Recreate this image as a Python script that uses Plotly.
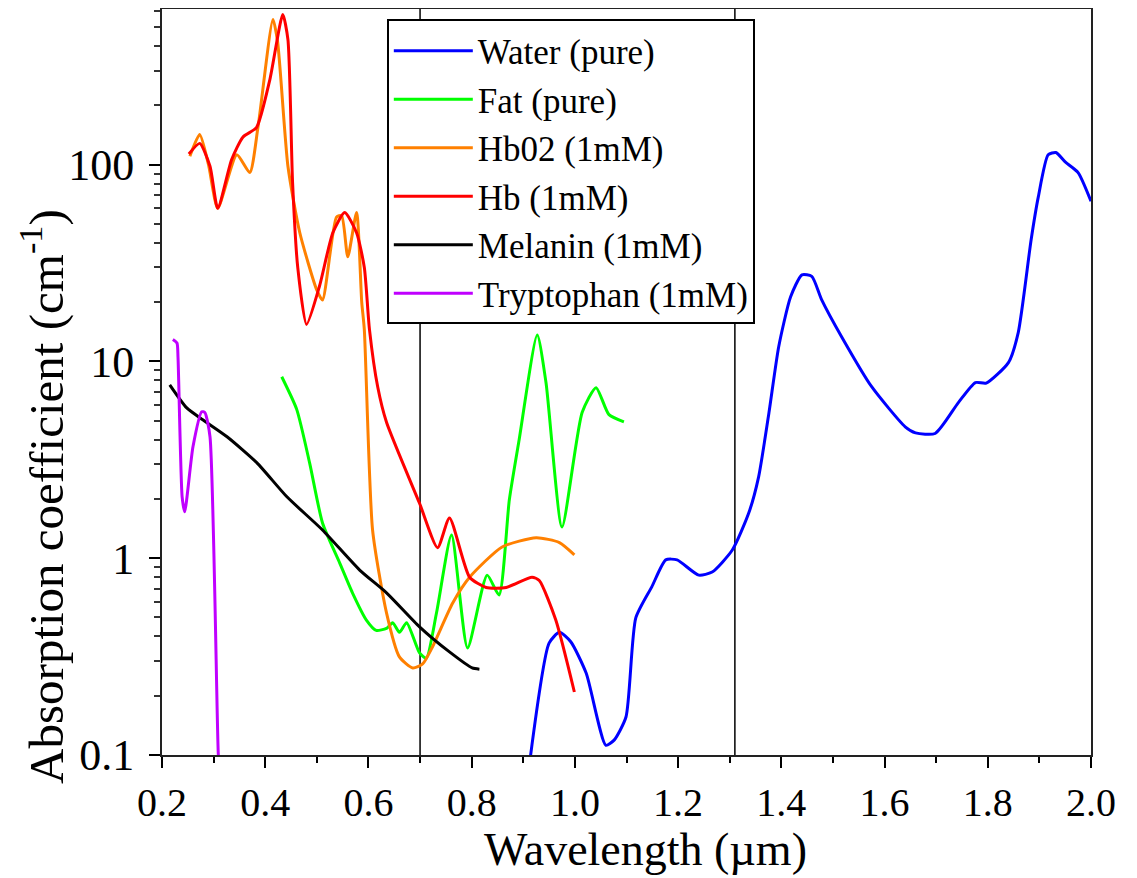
import plotly.graph_objects as go

# ---- data (wavelength in µm, absorption coefficient in cm^-1) ----
water_x = [0.912, 0.950, 0.970, 0.992, 1.022, 1.060, 1.076, 1.099, 1.118, 1.149, 1.176, 1.198,
           1.240, 1.266, 1.305, 1.337, 1.356, 1.376, 1.395, 1.418, 1.440, 1.459, 1.478, 1.517,
           1.575, 1.640, 1.660, 1.698, 1.743, 1.776, 1.797, 1.840, 1.859, 1.884, 1.898, 1.917,
           1.932, 1.950, 1.975, 2.000]
water_y = [0.090, 0.37, 0.42, 0.376, 0.26, 0.112, 0.119, 0.156, 0.497, 0.715, 0.98, 0.98,
           0.82, 0.85, 1.10, 1.70, 2.59, 5.48, 11.9, 21.3, 27.5, 27.0, 20.6, 13.3,
           7.43, 4.65, 4.33, 4.3, 6.17, 7.8, 7.75, 9.85, 14.0, 41.5, 68.7, 112,
           115, 103, 91, 65]

fat_x = [0.432, 0.461, 0.486, 0.511, 0.544, 0.569, 0.596, 0.615, 0.635, 0.647, 0.660, 0.674,
         0.699, 0.712, 0.732, 0.761, 0.792, 0.830, 0.853, 0.873, 0.892, 0.927, 0.944, 0.975,
         1.014, 1.041, 1.066, 1.095]
fat_y = [8.35, 5.7, 3.05, 1.51, 0.95, 0.667, 0.485, 0.43, 0.44, 0.47, 0.42, 0.47,
         0.33, 0.31, 0.53, 1.31, 0.35, 0.82, 0.65, 1.98, 4.0, 13.6, 7.8, 1.44,
         5.5, 7.35, 5.36, 4.93]

hbo2_x = [0.254, 0.273, 0.290, 0.308, 0.345, 0.370, 0.386, 0.415, 0.424, 0.444, 0.467, 0.500,
          0.511, 0.538, 0.548, 0.560, 0.577, 0.587, 0.592, 0.608, 0.635, 0.660, 0.686, 0.705,
          0.724, 0.763, 0.796, 0.859, 0.925, 0.970, 0.999]
hbo2_y = [110, 142, 100, 60, 112, 91, 155, 546, 420, 98, 45, 23,
          20.5, 54, 55, 34, 57, 20, 14.5, 1.39, 0.527, 0.315, 0.277, 0.29,
          0.354, 0.59, 0.80, 1.14, 1.27, 1.2, 1.04]

hb_x = [0.252, 0.273, 0.293, 0.308, 0.335, 0.357, 0.383, 0.409, 0.434, 0.444, 0.453, 0.463,
        0.480, 0.505, 0.531, 0.554, 0.577, 0.592, 0.602, 0.618, 0.635, 0.699, 0.734, 0.757,
        0.796, 0.828, 0.867, 0.917, 0.931, 0.963, 0.999]
hb_y = [113, 128, 98, 60, 106, 138, 154, 270, 578, 431, 81, 30,
        15.4, 24, 45, 57, 45, 30, 14.5, 7.4, 4.9, 1.9, 1.13, 1.6,
        0.80, 0.71, 0.71, 0.80, 0.77, 0.485, 0.209]

melanin_x = [0.215, 0.248, 0.279, 0.326, 0.384, 0.442, 0.511, 0.583, 0.635, 0.699, 0.757, 0.801, 0.815]
melanin_y = [7.6, 5.8, 5.05, 4.14, 3.05, 2.05, 1.39, 0.87, 0.667, 0.448, 0.334, 0.277, 0.273]

trp_x = [0.221, 0.229, 0.231, 0.239, 0.244, 0.260, 0.277, 0.283, 0.293, 0.309, 0.312]
trp_y = [12.9, 12.4, 10.5, 2.05, 1.72, 3.68, 5.54, 5.5, 4.14, 0.102, 0.08]

series = [
    ("Water (pure)", water_x, water_y, "#0000FF"),
    ("Fat (pure)", fat_x, fat_y, "#00FF00"),
    ("Hb02 (1mM)", hbo2_x, hbo2_y, "#FF8000"),
    ("Hb (1mM)", hb_x, hb_y, "#FF0000"),
    ("Melanin (1mM)", melanin_x, melanin_y, "#000000"),
    ("Tryptophan (1mM)", trp_x, trp_y, "#C000FF"),
]

vlines = [0.7, 1.31]
x_ticks = [0.2, 0.4, 0.6, 0.8, 1.0, 1.2, 1.4, 1.6, 1.8, 2.0]
x_ticktext = ["0.2", "0.4", "0.6", "0.8", "1.0", "1.2", "1.4", "1.6", "1.8", "2.0"]
y_ticks = [0.1, 1, 10, 100]
y_ticktext = ["0.1", "1", "10", "100"]
y_minor = [m * d for d in (0.1, 1, 10, 100) for m in range(2, 10) if m * d < 620]

x_title = "Wavelength (µm)"
y_title = "Absorption coefficient (cm<sup>-1</sup>)"

FONT = "Liberation Serif"

fig = go.Figure()
for name, xs, ys, col in series:
    fig.add_trace(go.Scatter(x=xs, y=ys, mode="lines", name=name,
                             line=dict(color=col, width=3, shape="spline", smoothing=0.6)))

for v in vlines:
    fig.add_shape(type="line", xref="x", yref="paper", x0=v, x1=v, y0=0, y1=1,
                  line=dict(color="black", width=1.5), layer="below")

# axis titles as annotations for precise placement
fig.add_annotation(text=x_title, xref="paper", yref="paper", x=0.5, y=0,
                   xanchor="center", yanchor="top", xshift=19, yshift=-67, showarrow=False,
                   font=dict(family=FONT, size=46, color="black"))
fig.add_annotation(text=y_title, xref="paper", yref="paper", x=0, y=0.346,
                   xanchor="center", yanchor="middle", xshift=-119, textangle=-90, showarrow=False,
                   font=dict(family=FONT, size=49, color="black"))

fig.update_layout(
    width=1137, height=878,
    margin=dict(l=154, r=54, t=1, b=131),
    paper_bgcolor="white", plot_bgcolor="white",
    font=dict(family=FONT, color="black"),
    showlegend=True,
    legend=dict(x=0.242, y=0.986, xanchor="left", yanchor="top",
                bordercolor="black", borderwidth=2, bgcolor="white",
                font=dict(family=FONT, size=35, color="black"),
                itemwidth=79),
    xaxis=dict(range=[0.2, 2.0], tickvals=x_ticks, ticktext=x_ticktext,
               ticks="outside", ticklen=11, tickwidth=2, tickcolor="black",
               minor=dict(dtick=0.1, tick0=0.1, ticks="outside", ticklen=6, tickwidth=2, tickcolor="black"),
               showline=True, linecolor="#222", linewidth=2, mirror=True,
               showgrid=False, zeroline=False, automargin=False, ticklabelstandoff=0,
               tickfont=dict(family=FONT, size=40, color="black")),
    yaxis=dict(type="log", range=[-1, 2.79], tickvals=y_ticks, ticktext=y_ticktext,
               ticks="outside", ticklen=11, tickwidth=2, tickcolor="black",
               minor=dict(tickvals=y_minor, ticks="outside", ticklen=6, tickwidth=1.5, tickcolor="#333"),
               showline=True, linecolor="#222", linewidth=2, mirror=True,
               showgrid=False, zeroline=False, automargin=False, ticklabelstandoff=6,
               tickfont=dict(family=FONT, size=44, color="black")),
)

fig.write_html("out.html")
